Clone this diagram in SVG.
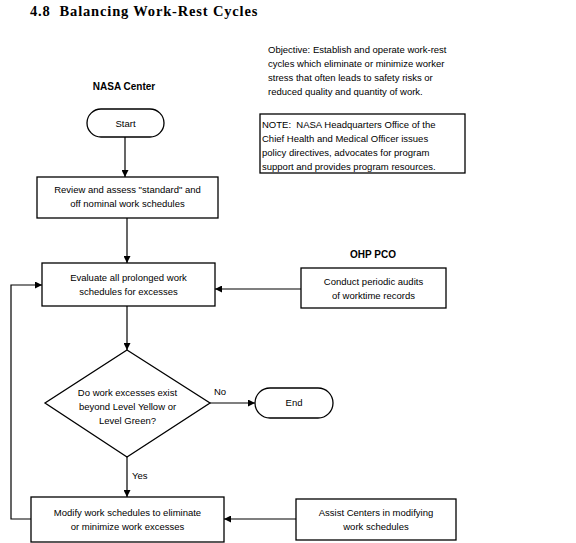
<svg xmlns="http://www.w3.org/2000/svg" width="576" height="543" viewBox="0 0 576 543">
<style>
  .shape { fill: #fff; stroke: #000; stroke-width: 1.3; }
  .t { font-family: "Liberation Sans", Arial, sans-serif; font-size: 9.5px; fill: #000; }
  .c { text-anchor: middle; }
  .lbl { font-family: "Liberation Sans", Arial, sans-serif; font-size: 10px; font-weight: bold; fill: #000; text-anchor: middle; }
  .title { font-family: "Liberation Serif", "Times New Roman", serif; font-size: 14.5px; font-weight: bold; fill: #000; letter-spacing: 0.6px; }
  .conn { fill: none; stroke: #000; stroke-width: 1.2; }
</style>
<defs>
  <marker id="arr" viewBox="0 0 10 10" refX="10" refY="5" markerWidth="7" markerHeight="7" markerUnits="userSpaceOnUse" orient="auto">
    <path d="M0,0 L10,5 L0,10 z" fill="#000"/>
  </marker>
</defs>
<rect width="576" height="543" fill="#fff"/>
<text class="title" x="30" y="16" xml:space="preserve" textLength="228" lengthAdjust="spacing">4.8  Balancing Work-Rest Cycles</text>

<g id="objective">
  <text class="t" x="268" y="53">Objective: Establish and operate work-rest</text>
  <text class="t" x="268" y="67">cycles which eliminate or minimize worker</text>
  <text class="t" x="268" y="81">stress that often leads to safety risks or</text>
  <text class="t" x="268" y="95">reduced quality and quantity of work.</text>
</g>

<g id="note">
  <rect class="shape" x="260" y="114" width="205" height="59"/>
  <text class="t" x="262" y="128" xml:space="preserve">NOTE:  NASA Headquarters Office of the</text>
  <text class="t" x="262" y="142">Chief Health and Medical Officer issues</text>
  <text class="t" x="262" y="156">policy directives, advocates for program</text>
  <text class="t" x="262" y="170">support and provides program resources.</text>
</g>

<g id="lane-nasa"><text class="lbl" x="124" y="90">NASA Center</text></g>
<g id="lane-ohp"><text class="lbl" x="373" y="258">OHP PCO</text></g>

<g id="connectors">
  <line class="conn" x1="125" y1="137" x2="125" y2="177" marker-end="url(#arr)"/>
  <line class="conn" x1="127" y1="218" x2="127" y2="263" marker-end="url(#arr)"/>
  <line class="conn" x1="301" y1="289" x2="215" y2="289" marker-end="url(#arr)"/>
  <line class="conn" x1="127" y1="306" x2="127" y2="350" marker-end="url(#arr)"/>
  <line class="conn" x1="210" y1="403" x2="255" y2="403" marker-end="url(#arr)"/>
  <line class="conn" x1="127" y1="457" x2="127" y2="497" marker-end="url(#arr)"/>
  <line class="conn" x1="296" y1="519" x2="224" y2="519" marker-end="url(#arr)"/>
  <polyline class="conn" points="31,519 11,519 11,285 42,285" marker-end="url(#arr)"/>
  <text class="t" x="214" y="395">No</text>
  <text class="t" x="132" y="479">Yes</text>
</g>

<g id="start">
  <rect class="shape" x="87" y="109" width="77" height="28" rx="14" ry="14"/>
  <text class="t c" x="125.5" y="127">Start</text>
</g>

<g id="review">
  <rect class="shape" x="37" y="177" width="181" height="41"/>
  <text class="t c" x="127.5" y="193">Review and assess "standard" and</text>
  <text class="t c" x="127.5" y="207">off nominal work schedules</text>
</g>

<g id="evaluate">
  <rect class="shape" x="42" y="263" width="173" height="43"/>
  <text class="t c" x="128.5" y="281">Evaluate all prolonged work</text>
  <text class="t c" x="128.5" y="295">schedules for excesses</text>
</g>

<g id="audit">
  <rect class="shape" x="301" y="268" width="145" height="40"/>
  <text class="t c" x="373.5" y="285">Conduct periodic audits</text>
  <text class="t c" x="373.5" y="299">of worktime records</text>
</g>

<g id="decision">
  <polygon class="shape" points="127,350 210,403 127,457 45,403"/>
  <text class="t c" x="127.5" y="396">Do work excesses exist</text>
  <text class="t c" x="127.5" y="410">beyond Level Yellow or</text>
  <text class="t c" x="127.5" y="424">Level Green?</text>
</g>

<g id="end">
  <rect class="shape" x="255" y="388" width="78" height="30" rx="15" ry="15"/>
  <text class="t c" x="294" y="406">End</text>
</g>

<g id="modify">
  <rect class="shape" x="31" y="497" width="193" height="45"/>
  <text class="t c" x="127.5" y="516">Modify work schedules to eliminate</text>
  <text class="t c" x="127.5" y="530">or minimize work excesses</text>
</g>

<g id="assist">
  <rect class="shape" x="296" y="499" width="160" height="41"/>
  <text class="t c" x="376" y="516">Assist Centers in modifying</text>
  <text class="t c" x="376" y="530">work schedules</text>
</g>
</svg>
